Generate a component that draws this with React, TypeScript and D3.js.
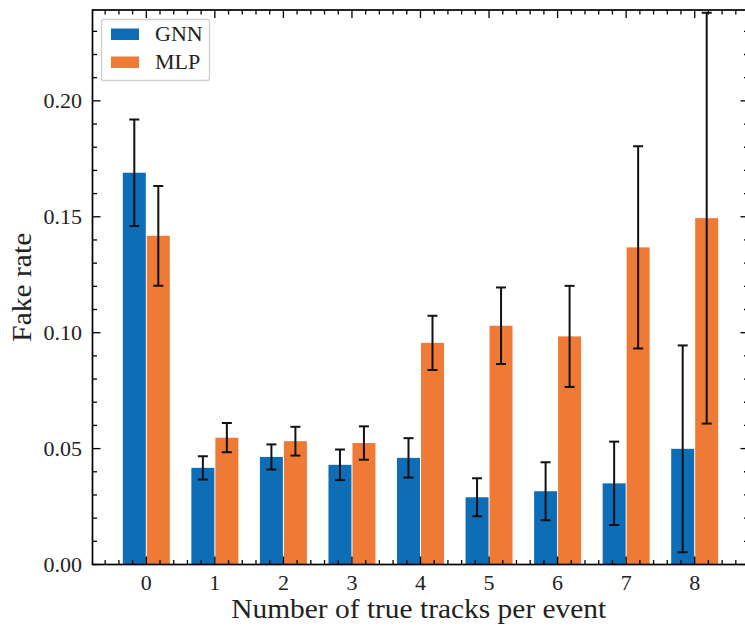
import React from "react";
import * as d3 from "d3";

// Fake rate per number of true tracks, with statistical uncertainties
const categories = [0, 1, 2, 3, 4, 5, 6, 7, 8];
const gnnValues = [0.169, 0.0417, 0.0464, 0.043, 0.046, 0.029, 0.0316, 0.035, 0.0499];
const gnnErrors = [0.023, 0.005, 0.0054, 0.0066, 0.0085, 0.0082, 0.0125, 0.018, 0.0446];
const mlpValues = [0.1418, 0.0547, 0.0532, 0.0524, 0.0956, 0.103, 0.0984, 0.1368, 0.1494];
const mlpErrors = [0.0215, 0.0063, 0.0062, 0.0072, 0.0117, 0.0165, 0.0218, 0.0436, 0.0886];
const yTicks = [0, 0.05, 0.1, 0.15, 0.2];
const seriesNames = ["GNN", "MLP"];

const W = 745;
const H = 627;
const FONT = '"Liberation Serif", "DejaVu Serif", serif';
const BLUE = "#0E6DB7";
const ORANGE = "#EE7A35";
const BAR_W = 0.35;

const textStyle = { fontFamily: FONT };

export default function App() {
  const x = d3.scaleLinear().domain([-0.785, 8.785]).range([92.5, 748.5]);
  const y = d3.scaleLinear().domain([0, 0.2392]).range([564.5, 10]);
  const [x0, x1] = x.range();
  const [yb, yt] = y.range();

  const xMinor = d3
    .range(-0.6, 8.7, 0.2)
    .map((v) => Math.round(v * 10) / 10)
    .filter((v) => Math.abs(v - Math.round(v)) > 1e-6);
  const yMinor = d3
    .range(0.01, 0.24, 0.01)
    .map((v) => Math.round(v * 100) / 100)
    .filter((v) => Math.round(v * 100) % 5 !== 0);

  const series = [
    { name: seriesNames[0], values: gnnValues, errors: gnnErrors, color: BLUE, offset: -BAR_W / 2 },
    { name: seriesNames[1], values: mlpValues, errors: mlpErrors, color: ORANGE, offset: BAR_W / 2 },
  ];

  const MAJ = 8;
  const MIN = 4.5;

  return (
    <svg width={W} height={H} style={{ position: "fixed", left: 0, top: 0, background: "#fff" }}>
      <defs>
        <clipPath id="plot-area">
          <rect x={x0} y={yt - 1} width={x1 - x0} height={yb - yt + 1} />
        </clipPath>
      </defs>
      <rect width={W} height={H} fill="#fff" />

      {/* bars */}
      <g clipPath="url(#plot-area)">
        {series.map((s) =>
          categories.map((c, i) => {
            const cx = c + s.offset;
            const left = x(cx - BAR_W / 2) + 0.5;
            const right = x(cx + BAR_W / 2) - 0.5;
            return (
              <rect key={s.name + c} x={left} y={y(s.values[i])} width={right - left} height={yb - y(s.values[i])} fill={s.color} />
            );
          })
        )}
        {/* error bars */}
        {series.map((s) =>
          categories.map((c, i) => {
            const cx = x(c + s.offset);
            const lo = y(Math.max(0, s.values[i] - s.errors[i]));
            const hi = y(s.values[i] + s.errors[i]);
            return (
              <g key={"e" + s.name + c} stroke="#111" strokeWidth={2}>
                <line x1={cx} x2={cx} y1={lo} y2={hi} />
                <line x1={cx - 5} x2={cx + 5} y1={lo} y2={lo} />
                <line x1={cx - 5} x2={cx + 5} y1={hi} y2={hi} />
              </g>
            );
          })
        )}
      </g>

      {/* ticks, mirrored on all four sides and pointing inward */}
      <g stroke="#000" strokeWidth={1.3}>
        {categories.map((c) => (
          <g key={"xt" + c}>
            <line x1={x(c)} x2={x(c)} y1={yb} y2={yb - MAJ} />
            <line x1={x(c)} x2={x(c)} y1={yt} y2={yt + MAJ} />
          </g>
        ))}
        {xMinor.map((v) => (
          <g key={"xm" + v}>
            <line x1={x(v)} x2={x(v)} y1={yb} y2={yb - MIN} />
            <line x1={x(v)} x2={x(v)} y1={yt} y2={yt + MIN} />
          </g>
        ))}
        {yTicks.map((v) => (
          <g key={"yt" + v}>
            <line x1={x0} x2={x0 + MAJ} y1={y(v)} y2={y(v)} />
            <line x1={x1} x2={x1 - MAJ} y1={y(v)} y2={y(v)} />
          </g>
        ))}
        {yMinor.map((v) => (
          <g key={"ym" + v}>
            <line x1={x0} x2={x0 + MIN} y1={y(v)} y2={y(v)} />
            <line x1={x1} x2={x1 - MIN} y1={y(v)} y2={y(v)} />
          </g>
        ))}
      </g>

      {/* frame */}
      <rect x={x0} y={yt} width={x1 - x0} height={yb - yt} fill="none" stroke="#000" strokeWidth={1.7} />

      {/* tick labels */}
      {categories.map((c) => (
        <text key={"xl" + c} x={x(c)} y={590} textAnchor="middle" fontSize={22} fill="#222" style={textStyle}>
          {String(c)}
        </text>
      ))}
      {yTicks.map((v) => (
        <text key={"yl" + v} x={82} y={y(v) + 7.5} textAnchor="end" fontSize={22} fill="#222" style={textStyle}>
          {d3.format(".2f")(v)}
        </text>
      ))}

      {/* axis titles */}
      <text
        x={(x0 + 746) / 2 - 0.5}
        y={618}
        textAnchor="middle"
        fontSize={26.5}
        fill="#222"
        style={textStyle}
        textLength={375}
        lengthAdjust="spacingAndGlyphs"
      >
        Number of true tracks per event
      </text>
      <text
        transform={`translate(31, ${(yt + yb) / 2}) rotate(-90)`}
        textAnchor="middle"
        fontSize={26.5}
        fill="#222"
        style={textStyle}
        textLength={109}
        lengthAdjust="spacingAndGlyphs"
      >
        Fake rate
      </text>

      {/* legend */}
      <g>
        <rect x={101.5} y={19.5} width={108} height={61} rx={2} fill="#fff" fillOpacity={0.85} stroke="#cfcfcf" strokeWidth={1.3} />
        {series.map((s, i) => (
          <g key={"lg" + s.name}>
            <rect x={111} y={28.5 + i * 28} width={28} height={11.5} fill={s.color} />
            <text x={155} y={41 + i * 28} fontSize={22} fill="#222" style={textStyle}>
              {s.name}
            </text>
          </g>
        ))}
      </g>
    </svg>
  );
}
